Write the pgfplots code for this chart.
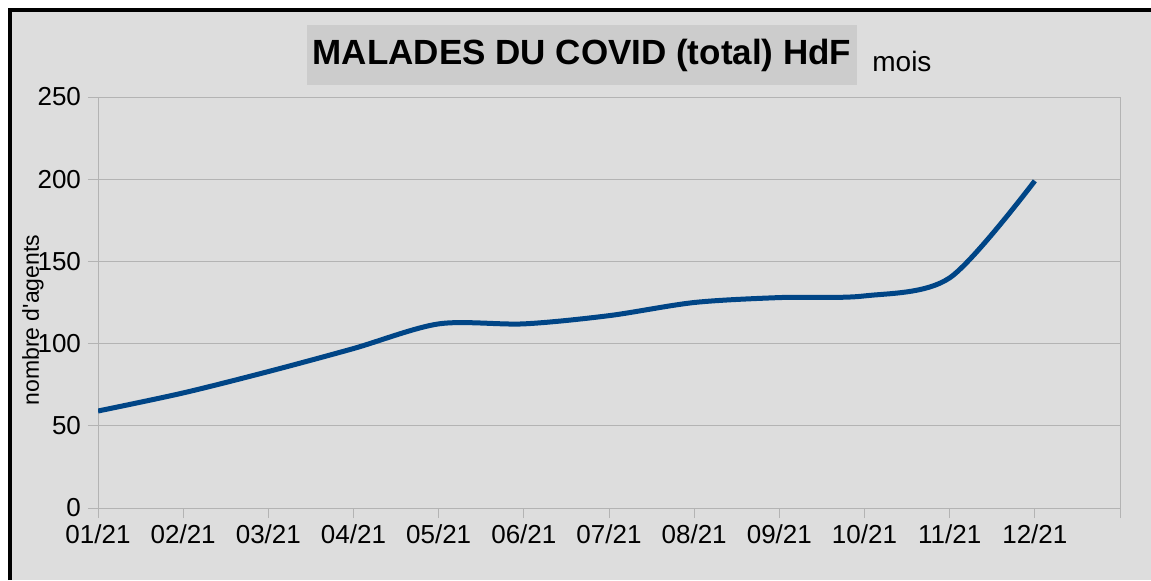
\documentclass[border=0pt]{standalone}
\usepackage{fontspec}
\setmainfont{Liberation Sans}
\usepackage{pgfplots}
\pgfplotsset{compat=1.18}
\definecolor{bg}{HTML}{DDDDDD}
\definecolor{titlebg}{HTML}{CCCCCC}
\definecolor{gridc}{HTML}{B3B3B3}
\definecolor{linec}{HTML}{004586}
\begin{document}
\begin{tikzpicture}
\begin{scope}[x=0.5pt,y=-0.5pt]
\path[use as bounding box] (0,0) rectangle (1151,580);
\fill[bg] (10,10) rectangle (1151,580);
\draw[black,line width=2pt] (10,580) -- (10,10) -- (1151,10);
\end{scope}
\begin{axis}[
  at={(49pt,-254pt)}, anchor=south west,
  scale only axis, width=511pt, height=205.5pt,
  xmin=1, xmax=13, ymin=0, ymax=250,
  xtick={1,...,13},
  xticklabels={01/21,02/21,03/21,04/21,05/21,06/21,07/21,08/21,09/21,10/21,11/21,12/21,{}},
  ytick={0,50,100,150,200,250},
  ymajorgrids, grid style={gridc, line width=0.5pt},
  axis line style={gridc, line width=0.5pt},
  tick style={gridc, line width=0.5pt},
  tick align=outside, major tick length=5pt,
  xtick pos=bottom, ytick pos=left,
  /pgf/number format/assume math mode=true,
  ticklabel style={font=\fontsize{13}{15}\selectfont, text=black},
  title={MALADES DU COVID (total) HdF},
  title style={at={(rel axis cs:0.4736,1)}, anchor=center, yshift=15pt, fill=titlebg, minimum width=275pt, minimum height=30pt, inner sep=0pt, font=\bfseries\fontsize{17.5}{20}\selectfont},
  xlabel={mois},
  xlabel style={at={(rel axis cs:0.7573,1)}, anchor=base west, yshift=13pt, inner sep=0pt, font=\fontsize{14}{16}\selectfont},
  ylabel={nombre d\textquotesingle agents},
  ylabel style={at={(rel axis cs:-0.0636,0.457)}, anchor=center, font=\fontsize{11.5}{14}\selectfont},
]
\addplot[linec, line width=2.5pt, smooth, tension=0.5] coordinates {
(1,59) (2,70) (3,83) (4,97) (5,112) (6,112) (7,117) (8,125) (9,128) (10,129) (11,140) (12,199)
};
\end{axis}
\end{tikzpicture}
\end{document}
